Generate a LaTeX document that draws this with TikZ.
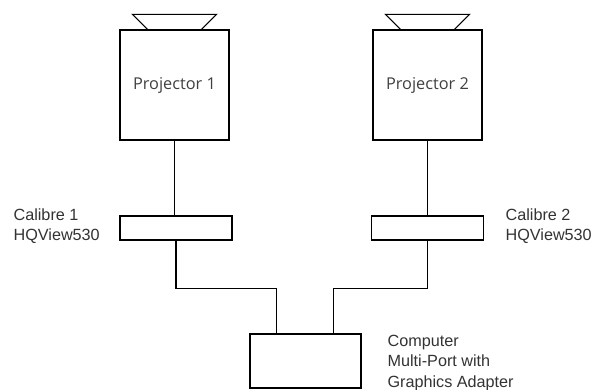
\documentclass[tikz,border=0pt]{standalone}
\usepackage{fontspec}
\setmainfont{Liberation Sans}
\newfontfamily\projfont{Open Sans}
\begin{document}
\begin{tikzpicture}[x=1pt,y=-1pt,line width=1.2pt,
  unit/.style={draw,rectangle,inner sep=0pt},
  projector/.style={unit,minimum width=109pt,minimum height=110pt,
    font=\projfont\fontsize{16.3}{19}\selectfont,text=black!75},
  calibre/.style={unit,minimum width=112pt,minimum height=24pt},
  computer/.style={unit,minimum width=111pt,minimum height=54pt},
  caption/.style={anchor=west,align=left,inner sep=0pt,text=black!80,
    font=\fontsize{16.2}{20.5}\selectfont}]
\useasboundingbox (0,0) rectangle (595,390);

% projectors with their lenses
\node[projector] (p1) at (174.5,85) {Projector 1};
\node[projector] (p2) at (427.5,85) {Projector 2};
\foreach \p in {p1,p2}
  \draw ([xshift=-27pt]\p.north) -- ++(-15,-15) -- ++(84,0) -- ++(-15,15);

% calibre boxes
\node[calibre] (c1) at (176,228) {};
\node[calibre] (c2) at (427.5,228) {};
\node[caption] (c1t) at (13,226) {Calibre 1\\HQView530};
\node[caption] (c2t) at (505,226) {Calibre 2\\HQView530};

% computer
\node[computer] (pc) at (305.5,361) {};
\node[caption] (pct) at (387,363) {Computer\\Multi-Port with\\Graphics Adapter};

% cabling
\draw (p1.south) -- (p1.south |- c1.north);
\draw (p2.south) -- (p2.south |- c2.north);
\draw (c1.south) -- ++(0,48) -| ([xshift=27pt]pc.north west);
\draw (c2.south) -- ++(0,48) -| ([xshift=-28pt]pc.north east);
\end{tikzpicture}
\end{document}
